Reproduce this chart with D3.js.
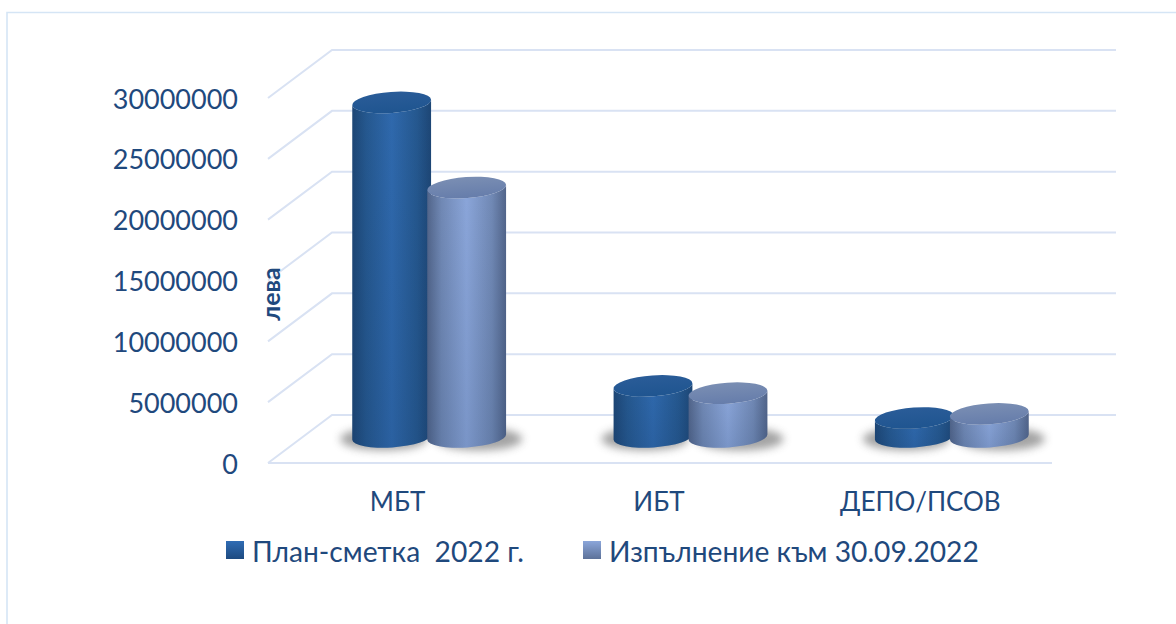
<!DOCTYPE html>
<html>
<head>
<meta charset="utf-8">
<script src="https://cdn.jsdelivr.net/npm/d3@7"></script>
<style>
body { margin: 0; background: #fff; }
text { font-family: Lato, sans-serif; fill: #1f497d; white-space: pre; }
</style>
</head>
<body>
<svg id="chart" width="1176" height="624"></svg>
<script>
var categories = ["МБТ", "ИБТ", "ДЕПО/ПСОВ"];
var seriesNames = ["План-сметка  2022 г.", "Изпълнение към 30.09.2022"];
var planValues = [27500000, 4200000, 1560000];
var doneValues = [20500000, 3600000, 1900000];
var yTicks = [0, 5000000, 10000000, 15000000, 20000000, 25000000, 30000000];

var svg = d3.select("#chart");
var defs = svg.append("defs");

// depth of the fake 3d floor
var depthX = 64, depthY = 48;
var x = d3.scaleBand().domain(categories).range([268, 1052]);
var y = d3.scaleLinear().domain([0, 30000000]).range([463, 98]);

function sideGradient(id, edge, near, mid) {
    var g = defs.append("linearGradient").attr("id", id);
    g.append("stop").attr("offset", "0%").attr("stop-color", edge);
    g.append("stop").attr("offset", "18%").attr("stop-color", near);
    g.append("stop").attr("offset", "50%").attr("stop-color", mid);
    g.append("stop").attr("offset", "82%").attr("stop-color", near);
    g.append("stop").attr("offset", "100%").attr("stop-color", edge);
}
function legendGradient(id, top, bottom) {
    var g = defs.append("linearGradient").attr("id", id).attr("x2", 0).attr("y2", 1);
    g.append("stop").attr("offset", "0%").attr("stop-color", top);
    g.append("stop").attr("offset", "100%").attr("stop-color", bottom);
}
sideGradient("side0", "#1d4675", "#25588f", "#2f69ad");
sideGradient("side1", "#52658a", "#7189b5", "#8ba6da");
legendGradient("legend0", "#2f6cb4", "#1d4a80");
legendGradient("legend1", "#8ba6da", "#5d7299");
legendGradient("cap0", "#2a5c98", "#1f5590");
legendGradient("cap1", "#7a8eb3", "#667dab");
var fade = defs.append("linearGradient").attr("id", "fade").attr("x2", 0).attr("y2", 1);
fade.append("stop").attr("offset", "0%").attr("stop-color", "#0f2c55").attr("stop-opacity", 0);
fade.append("stop").attr("offset", "100%").attr("stop-color", "#0f2c55").attr("stop-opacity", 0.14);
defs.append("filter").attr("id", "blur").attr("x", "-30%").attr("y", "-60%").attr("width", "160%").attr("height", "220%")
    .append("feGaussianBlur").attr("stdDeviation", 4);

// only the top and left edges of the frame show
svg.append("path").attr("d", "M7,624V12.5H1176")
    .attr("fill", "none").attr("stroke", "#d5e5f5").attr("stroke-width", 1.6);

// walls and floor
var grid = svg.append("g").attr("fill", "none").attr("stroke", "#d9e2f3").attr("stroke-width", 2);
grid.selectAll("path").data(yTicks).enter().append("path")
    .attr("d", function (d) {
        return "M" + x.range()[0] + "," + y(d) + "L" + (x.range()[0] + depthX) + "," + (y(d) - depthY) +
            "H" + (x.range()[1] + depthX);
    });
grid.append("line").attr("x1", x.range()[0]).attr("x2", x.range()[1]).attr("y1", y(0)).attr("y2", y(0));

var yAxis = d3.axisLeft(y).tickValues(yTicks).tickSize(0).tickPadding(0).tickFormat(d3.format("d"));
var yG = svg.append("g").attr("transform", "translate(238,1.5)").call(yAxis);
yG.select(".domain").remove();
yG.selectAll("text").attr("font-size", 27).style("font-family", "Lato, sans-serif").style("fill", "#1f497d");

var xAxis = d3.axisBottom(x).tickSize(0).tickPadding(0);
var xG = svg.append("g").attr("transform", "translate(-1,490)").call(xAxis);
xG.select(".domain").remove();
xG.selectAll("text").attr("font-size", 26).attr("dy", 0).attr("y", 0).attr("dominant-baseline", "hanging")
    .style("font-family", "Lato, sans-serif").style("fill", "#1f497d");

svg.append("text").attr("transform", "translate(280,294) rotate(-90)").attr("text-anchor", "middle")
    .attr("font-size", 25).attr("font-weight", 700).text("лева");

// cylinders
var rx = 39.5, ry = 10.5, tilt = -4;
var dx = rx * Math.cos(tilt * Math.PI / 180), dy = rx * Math.sin(tilt * Math.PI / 180);
var rows = [];
categories.forEach(function (c, i) {
    rows.push({ cat: c, s: 0, v: planValues[i] });
    rows.push({ cat: c, s: 1, v: doneValues[i] });
});
var cx = function (d) { return x(d.cat) + x.bandwidth() / 2 + depthX / 2 - 1.5 + (d.s ? 37.5 : -37.5); };
var floorY = y(0) - 26;

svg.append("g").selectAll("ellipse").data(rows).enter().append("ellipse")
    .attr("cx", function (d) { return cx(d) + (d.s ? 12 : -8); })
    .attr("cy", floorY + 2)
    .attr("rx", rx + 4).attr("ry", ry + 1)
    .attr("fill", "#666").attr("opacity", 0.6).attr("filter", "url(#blur)");

var bars = svg.append("g").selectAll("g").data(rows).enter().append("g");
function bodyPath(d) {
    var top = y(d.v) - 26, c = cx(d);
    return "M" + (c - dx) + "," + (top - dy) + "L" + (c - dx) + "," + (floorY - dy) +
        "A" + rx + "," + ry + " " + tilt + " 0 0 " + (c + dx) + "," + (floorY + dy) +
        "L" + (c + dx) + "," + (top + dy) +
        "A" + rx + "," + ry + " " + tilt + " 0 1 " + (c - dx) + "," + (top - dy) + "Z";
}
bars.append("path").attr("d", bodyPath).attr("fill", function (d) { return "url(#side" + d.s + ")"; });
bars.append("path").attr("d", bodyPath).attr("fill", "url(#fade)");
bars.append("ellipse")
    .attr("rx", rx).attr("ry", ry)
    .attr("transform", function (d) { return "translate(" + cx(d) + "," + (y(d.v) - 26) + ") rotate(" + tilt + ")"; })
    .attr("fill", function (d) { return "url(#cap" + d.s + ")"; });

// legend
var legendX = [226, 583];
var legend = svg.append("g").selectAll("g").data(seriesNames).enter().append("g")
    .attr("transform", function (d, i) { return "translate(" + legendX[i] + ",541)"; });
legend.append("rect").attr("width", 18).attr("height", 18)
    .attr("fill", function (d, i) { return "url(#legend" + i + ")"; });
legend.append("text").attr("x", 26).attr("y", 21).attr("font-size", 28.2).text(function (d) { return d; });
</script>
</body>
</html>
